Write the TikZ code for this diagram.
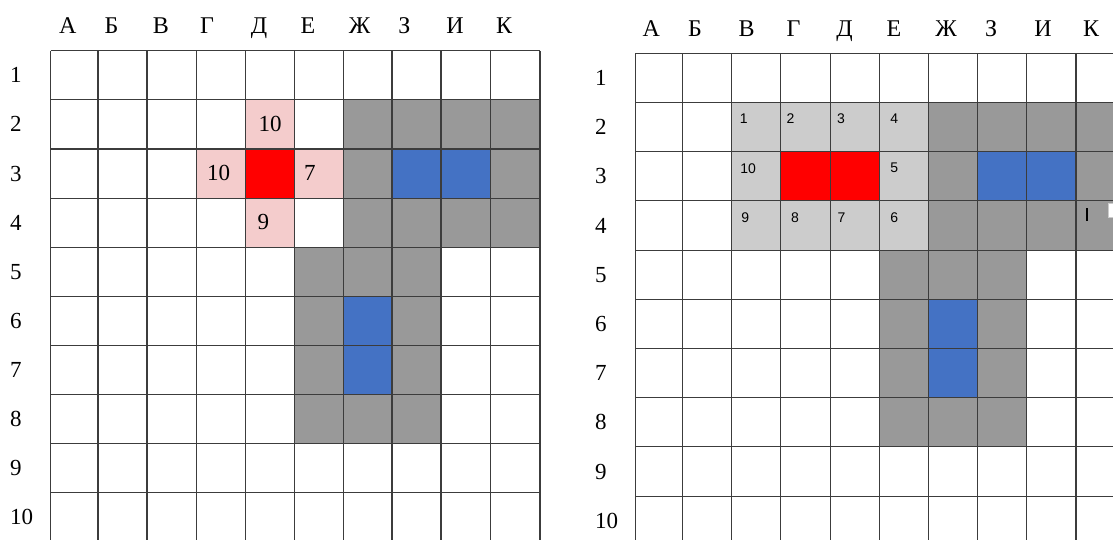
\documentclass[tikz,border=0pt]{standalone}
\usepackage{fontspec}
\setmainfont{Liberation Serif}
\newfontfamily\arialfont{Liberation Sans}
\usetikzlibrary{calc}
\definecolor{dk}{HTML}{999999}
\definecolor{lg}{HTML}{CCCCCC}
\definecolor{bl}{HTML}{4472C4}
\definecolor{rd}{HTML}{FF0000}
\definecolor{pk}{HTML}{F4CCCC}
\definecolor{gl}{HTML}{3C3C3C}
\begin{document}
\begin{tikzpicture}[x=1pt,y=-1pt,
  gridline/.style={draw=gl, line width=1.1pt},
  lab/.style={font=\fontsize{24}{28}\selectfont, inner sep=0pt, anchor=base},
  rowlab/.style={font=\fontsize{23}{27}\selectfont, inner sep=0pt, anchor=base west},
  bignum/.style={font=\fontsize{23}{27}\selectfont, inner sep=0pt, anchor=base west},
  smallnum/.style={font=\arialfont\fontsize{14}{16}\selectfont, inner sep=0pt, anchor=west},
]
\useasboundingbox[fill=white] (0,0) rectangle (1113,539);

% grid coordinates
\foreach \x [count=\i from 0] in {50.5,98,147,196.5,245.5,294.3,343.2,392,441,490.3,540}
  \foreach \y [count=\j from 0] in {50.8,99.9,149,198.1,247.2,296.3,345.4,394.5,443.6,492.7,541.8}
    \coordinate (L\i-\j) at (\x,\y);
\foreach \x [count=\i from 0] in {635.4,682.7,731.7,780.5,830.5,879.6,928.8,977.8,1026.8,1076,1125.2}
  \foreach \y [count=\j from 0] in {53.3,102.5,151.7,200.9,250.1,299.3,348.5,397.7,446.9,496.1,545.3}
    \coordinate (R\i-\j) at (\x,\y);

% shared fills
\foreach \g in {L,R} {
  \fill[dk] (\g6-1) rectangle (\g10-4);
  \fill[dk] (\g5-4) rectangle (\g8-8);
  \fill[bl] (\g7-2) rectangle (\g9-3);
  \fill[bl] (\g6-5) rectangle (\g7-7);
}
% left specific
\fill[pk] (L4-1) rectangle (L5-2);
\fill[pk] (L3-2) rectangle (L4-3);
\fill[pk] (L5-2) rectangle (L6-3);
\fill[pk] (L4-3) rectangle (L5-4);
\fill[rd] (L4-2) rectangle (L5-3);
% right specific
\fill[lg] (R2-1) rectangle (R6-2);
\fill[lg] (R2-2) rectangle (R3-3);
\fill[lg] (R5-2) rectangle (R6-3);
\fill[lg] (R2-3) rectangle (R6-4);
\fill[rd] (R3-2) rectangle (R5-3);

% grid lines
\foreach \g in {L,R}
  \foreach \k in {0,...,10} {
    \draw[gridline] (\g\k-0) -- (\g\k-10);
    \draw[gridline] (\g0-\k) -- (\g10-\k);
  }

% column labels
\foreach \t/\x [count=\i] in {А/67.7,Б/111.5,В/161,Г/207,Д/259,Е/308,Ж/359.5,З/404.5,И/455,К/504}
  \node[lab] (lc\i) at (\x,33.5) {\t};
\foreach \t/\x [count=\i] in {А/651.4,Б/695,В/746.7,Г/793.5,Д/844.5,Е/894,Ж/946,З/991,И/1043,К/1091}
  \node[lab] (rc\i) at (\x,36) {\t};

% row labels
\foreach \r in {1,...,10} {
  \node[rowlab] (lr\r) at (10,{50.8+49.1*(\r-0.5)+7.5}) {\r};
  \node[rowlab] (rr\r) at (595,{53.3+49.2*(\r-0.5)+7.5}) {\r};
}

% left numbers
\node[bignum] (n1) at (258.5,131.5) {10};
\node[bignum] (n2) at (207,180.5) {10};
\node[bignum] (n3) at (304,180.5) {7};
\node[bignum] (n4) at (257.5,229.5) {9};

% right numbers
\node[smallnum] (s1) at ($(R2-1)+(8,16.5)$) {1};
\node[smallnum] (s2) at ($(R3-1)+(6,16.5)$) {2};
\node[smallnum] (s3) at ($(R4-1)+(6.5,16.5)$) {3};
\node[smallnum] (s4) at ($(R5-1)+(10.5,16.5)$) {4};
\node[smallnum] (s10) at ($(R2-2)+(8.5,16.5)$) {10};
\node[smallnum] (s5) at ($(R5-2)+(10.5,16.5)$) {5};
\node[smallnum] (s9) at ($(R2-3)+(9.5,16.5)$) {9};
\node[smallnum] (s8) at ($(R3-3)+(10.5,16.5)$) {8};
\node[smallnum] (s7) at ($(R4-3)+(7,16.5)$) {7};
\node[smallnum] (s6) at ($(R5-3)+(10.5,16.5)$) {6};

% cursor mark and small white box
\fill[black] (1086.2,208) rectangle (1088.4,221);
\filldraw[fill=white, draw=lg] (1107.7,203.5) rectangle (1118,217);
\end{tikzpicture}
\end{document}
